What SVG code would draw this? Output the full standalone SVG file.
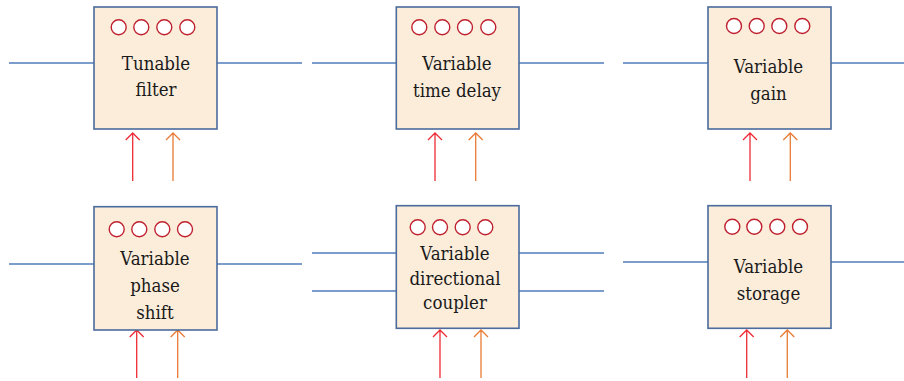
<svg xmlns="http://www.w3.org/2000/svg" width="904" height="381" viewBox="0 0 904 381">
<defs>
<style>
.box{fill:#FBEDDA;stroke:#4A6B9B;stroke-width:1.6}
.dot{fill:#fff;stroke:#C0202E;stroke-width:1.4}
.lbl{font-family:"DejaVu Serif Condensed","DejaVu Serif",serif;font-stretch:condensed;font-size:18.5px;fill:#1a1a1a;text-anchor:middle}
.wire{stroke:#4F7DBA;stroke-width:1.4;fill:none}
.ar{stroke:#EE2C36;stroke-width:1.3;fill:none}
.ao{stroke:#E87B36;stroke-width:1.3;fill:none}
</style>
</defs>
<g id="connectors">
<line class="wire" x1="9" y1="63" x2="94" y2="63"/><line class="wire" x1="217" y1="63" x2="302" y2="63"/>
<line class="wire" x1="312" y1="63" x2="396" y2="63"/><line class="wire" x1="519" y1="63" x2="604" y2="63"/>
<line class="wire" x1="623" y1="63" x2="708" y2="63"/><line class="wire" x1="831" y1="63" x2="904" y2="63"/>
<line class="wire" x1="9" y1="264" x2="94" y2="264"/><line class="wire" x1="217" y1="264" x2="302" y2="264"/>
<line class="wire" x1="312" y1="253" x2="396" y2="253"/><line class="wire" x1="519" y1="253" x2="604" y2="253"/>
<line class="wire" x1="312" y1="291" x2="396" y2="291"/><line class="wire" x1="519" y1="291" x2="604" y2="291"/>
<line class="wire" x1="623" y1="262" x2="708" y2="262"/><line class="wire" x1="831" y1="262" x2="904" y2="262"/>
<path class="ar" d="M132.7 181V133M125.7 140L132.7 133L139.7 140"/>
<path class="ao" d="M173 181V133M166 140L173 133L180 140"/>
<path class="ar" d="M435 181V133M428 140L435 133L442 140"/>
<path class="ao" d="M475.7 181V133M468.7 140L475.7 133L482.7 140"/>
<path class="ar" d="M750 181V133M743 140L750 133L757 140"/>
<path class="ao" d="M790.3 181V133M783.3 140L790.3 133L797.3 140"/>
<path class="ar" d="M136.7 378V330M129.7 337L136.7 330L143.7 337"/>
<path class="ao" d="M177.7 378V330M170.7 337L177.7 330L184.7 337"/>
<path class="ar" d="M440 378V330M433 337L440 330L447 337"/>
<path class="ao" d="M481 378V330M474 337L481 330L488 337"/>
<path class="ar" d="M746.7 378V330M739.7 337L746.7 330L753.7 337"/>
<path class="ao" d="M787.3 378V330M780.3 337L787.3 330L794.3 337"/>
</g>
<g id="n1">
<rect class="box" x="94" y="7" width="123" height="122"/>
<circle class="dot" cx="118.7" cy="27.3" r="7.5"/><circle class="dot" cx="141.3" cy="27.3" r="7.5"/><circle class="dot" cx="164.3" cy="27.3" r="7.5"/><circle class="dot" cx="187.3" cy="27.3" r="7.5"/>
<text class="lbl" x="156" y="69.5">Tunable</text><text class="lbl" x="156" y="95.5">filter</text>
</g>
<g id="n2">
<rect class="box" x="396.3" y="7" width="122.7" height="122"/>
<circle class="dot" cx="419.3" cy="27.3" r="7.5"/><circle class="dot" cx="442.3" cy="27.3" r="7.5"/><circle class="dot" cx="465" cy="27.3" r="7.5"/><circle class="dot" cx="488.3" cy="27.3" r="7.5"/>
<text class="lbl" x="457" y="70">Variable</text><text class="lbl" x="457" y="96.5">time delay</text>
</g>
<g id="n3">
<rect class="box" x="708" y="7" width="123" height="122"/>
<circle class="dot" cx="734" cy="26" r="7.5"/><circle class="dot" cx="756.7" cy="26" r="7.5"/><circle class="dot" cx="779.3" cy="26" r="7.5"/><circle class="dot" cx="802.3" cy="26" r="7.5"/>
<text class="lbl" x="768.5" y="72.5">Variable</text><text class="lbl" x="768.5" y="99.5">gain</text>
</g>
<g id="n4">
<rect class="box" x="94" y="206.7" width="123" height="123.3"/>
<circle class="dot" cx="116.7" cy="229.3" r="7.5"/><circle class="dot" cx="139.3" cy="229.3" r="7.5"/><circle class="dot" cx="162.3" cy="229.3" r="7.5"/><circle class="dot" cx="185" cy="229.3" r="7.5"/>
<text class="lbl" x="155" y="265">Variable</text><text class="lbl" x="155" y="292">phase</text><text class="lbl" x="155" y="319">shift</text>
</g>
<g id="n5">
<rect class="box" x="396.3" y="205.7" width="122.7" height="122.6"/>
<circle class="dot" cx="417.7" cy="227.3" r="7.5"/><circle class="dot" cx="440" cy="227.3" r="7.5"/><circle class="dot" cx="462.7" cy="227.3" r="7.5"/><circle class="dot" cx="485.3" cy="227.3" r="7.5"/>
<text class="lbl" x="455" y="260">Variable</text><text class="lbl" x="455" y="285">directional</text><text class="lbl" x="455" y="309">coupler</text>
</g>
<g id="n6">
<rect class="box" x="708" y="205.7" width="123" height="122.6"/>
<circle class="dot" cx="732.3" cy="226.7" r="7.5"/><circle class="dot" cx="754.3" cy="226.7" r="7.5"/><circle class="dot" cx="777.3" cy="226.7" r="7.5"/><circle class="dot" cx="800" cy="226.7" r="7.5"/>
<text class="lbl" x="768.5" y="273">Variable</text><text class="lbl" x="768.5" y="300">storage</text>
</g>
</svg>
